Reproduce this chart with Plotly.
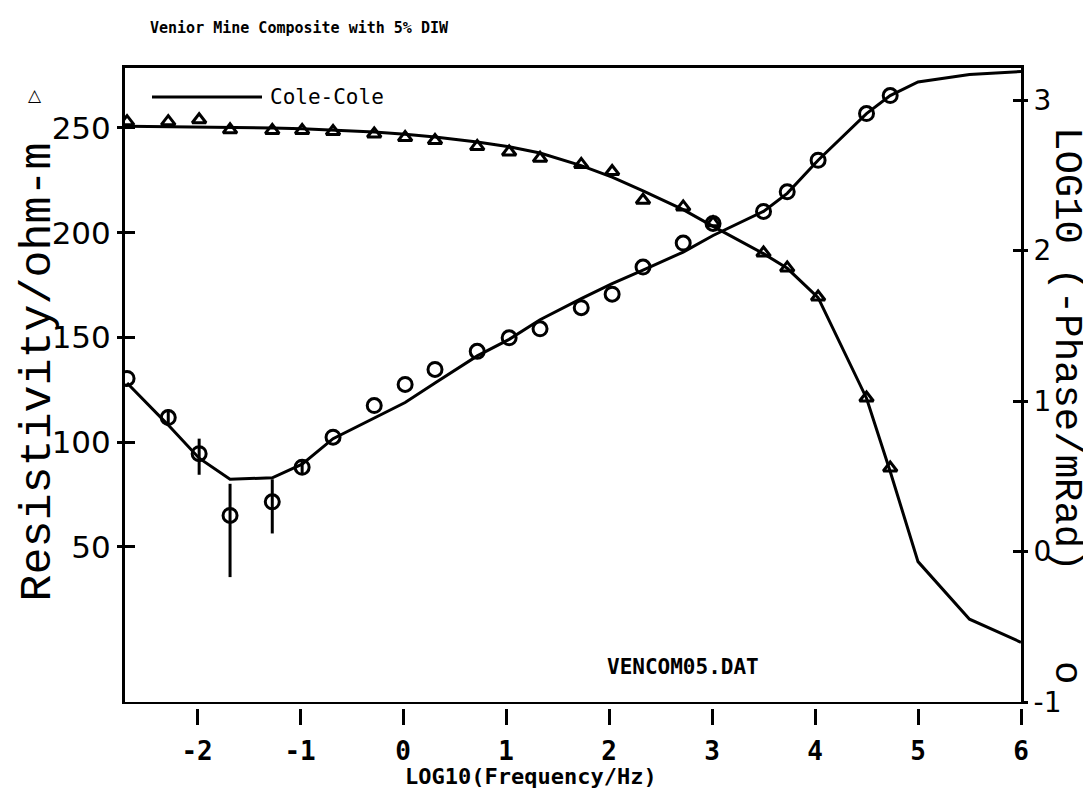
import plotly.graph_objects as go

# ---------------- data ----------------
log_freq = [-2.68, -2.28, -1.98, -1.68, -1.27, -0.98, -0.68, -0.28, 0.02, 0.31,
            0.72, 1.03, 1.33, 1.73, 2.03, 2.33, 2.72, 3.01, 3.50, 3.73,
            4.03, 4.50, 4.73]
resistivity = [253.0, 253.0, 253.9, 249.1, 248.8, 248.8, 248.3, 247.1, 245.4, 244.0,
               241.1, 238.5, 235.5, 232.6, 229.2, 215.5, 212.3, 204.7, 190.3, 183.2,
               169.3, 121.1, 87.7]
log_phase = [1.15, 0.89, 0.65, 0.24, 0.33, 0.56, 0.76, 0.97, 1.11, 1.21,
             1.33, 1.42, 1.48, 1.62, 1.71, 1.89, 2.05, 2.18, 2.26, 2.39,
             2.60, 2.91, 3.03]
phase_err_plus = [0, 0.055, 0.10, 0.21, 0.15, 0.04, 0, 0, 0, 0,
                  0, 0, 0, 0, 0, 0, 0, 0, 0, 0, 0, 0, 0]
phase_err_minus = [0, 0.055, 0.14, 0.41, 0.21, 0.04, 0, 0, 0, 0,
                   0, 0, 0, 0, 0, 0, 0, 0, 0, 0, 0, 0, 0]

model_log_freq = [-2.68, -2.28, -1.98, -1.68, -1.27, -0.98, -0.68, -0.28, 0.02, 0.31,
                  0.72, 1.03, 1.33, 1.73, 2.03, 2.33, 2.72, 3.01, 3.50, 3.73,
                  4.03, 4.50, 4.73, 5.0, 5.5, 6.0]
model_resistivity = [250.8, 250.6, 250.4, 250.2, 250.0, 249.6, 249.0, 248.0, 247.0, 245.7,
                     243.3, 241.0, 238.0, 232.0, 226.5, 220.0, 211.0, 203.0, 190.0, 183.0,
                     169.0, 121.0, 86.0, 43.0, 15.5, 4.5]
model_log_phase = [1.12, 0.84, 0.62, 0.48, 0.49, 0.58, 0.75, 0.89, 0.99, 1.12,
                   1.30, 1.41, 1.54, 1.68, 1.78, 1.87, 1.99, 2.10, 2.26, 2.38,
                   2.60, 2.91, 3.03, 3.12, 3.17, 3.19]

x_tickvals = [-2, -1, 0, 1, 2, 3, 4, 5, 6]
x_ticktext = ["-2", "-1", "0", "1", "2", "3", "4", "5", "6"]
rho_tickvals = [50, 100, 150, 200, 250]
phase_tickvals = [-1, 0, 1, 2, 3]
phase_ticktext = ["-1", "0", "1", "2", "3"]
phase_inner_ticks = [0, 1, 2, 3]

x_range = [-2.7, 6.0]
rho_range = [-24, 278.6]
phase_range = [-1, 3.213]

title_text = "Venior Mine Composite with 5% DIW"
legend_text = "Cole-Cole"
file_text = "VENCOM05.DAT"
x_title = "LOG10(Frequency/Hz)"
left_title = "Resistivity/ohm-m"
right_title = "LOG10 (-Phase/mRad)"
right_symbol = "o"

# ---------------- layout geometry ----------------
OFF = 8                      # page body margin of the html page
W, H = 1091 - OFF, 800 - OFF
# frame in screen pixels: left 125, right 1021, top 68, bottom 702
ML = 125 - OFF
MR = W - (1021 - OFF)
MT = 68 - OFF
MB = 800 - 702               # frame bottom = bottom of plotting area
PW, PH = W - ML - MR, H - MT - MB


def px(xs):
    """screen x (reference picture) -> paper x"""
    return (xs - OFF - ML) / PW


def py(ys):
    """screen y (reference picture) -> paper y"""
    return (H - MB - (ys - OFF)) / PH


MONO = "DejaVu Sans Mono"
TMONO = "Liberation Mono"
SANS = "DejaVu Sans"
BLACK = "black"

fig = go.Figure()

fig.add_trace(go.Scatter(x=model_log_freq, y=model_resistivity, mode="lines",
                         line=dict(color=BLACK, width=3), yaxis="y",
                         name="Cole-Cole", hoverinfo="skip"))
fig.add_trace(go.Scatter(x=model_log_freq, y=model_log_phase, mode="lines",
                         line=dict(color=BLACK, width=3), yaxis="y2",
                         name="Cole-Cole phase", hoverinfo="skip"))
fig.add_trace(go.Scatter(x=log_freq, y=resistivity, mode="markers", yaxis="y",
                         marker=dict(symbol="triangle-up-open", size=12,
                                     color=BLACK, line=dict(width=3, color=BLACK)),
                         name="Resistivity"))
fig.add_trace(go.Scatter(x=log_freq, y=log_phase, mode="markers", yaxis="y2",
                         marker=dict(symbol="circle-open", size=14,
                                     color=BLACK, line=dict(width=3, color=BLACK)),
                         error_y=dict(type="data", symmetric=False,
                                      array=phase_err_plus,
                                      arrayminus=phase_err_minus,
                                      thickness=3, width=0, color=BLACK),
                         name="Phase"))
# invisible copies so that the inner-tick overlay axes are drawn
fig.add_trace(go.Scatter(x=model_log_freq, y=model_resistivity, mode="lines",
                         yaxis="y3", opacity=0, line=dict(width=0),
                         hoverinfo="skip", showlegend=False))
fig.add_trace(go.Scatter(x=model_log_freq, y=model_log_phase, mode="lines",
                         yaxis="y4", opacity=0, line=dict(width=0),
                         hoverinfo="skip", showlegend=False))

fig.update_layout(
    width=W, height=H,
    margin=dict(l=ML, r=MR, t=MT, b=MB, autoexpand=False),
    paper_bgcolor="white", plot_bgcolor="white",
    showlegend=False,
    xaxis=dict(range=x_range, showline=True, mirror=True,
               linecolor=BLACK, linewidth=3, tickmode="array",
               tickvals=x_tickvals, ticktext=x_ticktext,
               ticks="outside", ticklen=20, tickwidth=3, tickcolor=BLACK,
               ticklabelstandoff=4,
               tickfont=dict(family=MONO, size=26, color=BLACK, weight="bold"),
               showgrid=False, zeroline=False),
    yaxis=dict(range=rho_range, tickmode="array",
               tickvals=rho_tickvals, ticks="outside", ticklen=5, tickwidth=3,
               tickcolor=BLACK, showline=True, linecolor=BLACK, linewidth=3,
               showgrid=False, zeroline=False,
               tickfont=dict(family=SANS, size=31, color=BLACK)),
    yaxis3=dict(overlaying="y", anchor="x", side="left", range=rho_range,
                tickmode="array", tickvals=rho_tickvals, ticks="inside",
                ticklen=10, tickwidth=3, tickcolor=BLACK, showticklabels=False,
                showline=False, showgrid=False, zeroline=False),
    yaxis2=dict(overlaying="y", anchor="x", side="right", range=phase_range,
                tickmode="array", tickvals=phase_tickvals, ticktext=phase_ticktext,
                ticks="outside", ticklen=4, tickwidth=3, tickcolor=BLACK,
                showline=True, linecolor=BLACK, linewidth=3,
                showgrid=False, zeroline=False,
                tickfont=dict(family=SANS, size=28, color=BLACK)),
    yaxis4=dict(overlaying="y", anchor="x", side="right", range=phase_range,
                tickmode="array", tickvals=phase_inner_ticks, ticks="inside",
                ticklen=8, tickwidth=3, tickcolor=BLACK, showticklabels=False,
                showline=False, showgrid=False, zeroline=False),
)

# legend sample drawn by hand (long line like the original plotter legend)
fig.add_shape(type="line", xref="paper", yref="paper",
              x0=px(152), x1=px(262), y0=py(97), y1=py(97),
              line=dict(color=BLACK, width=3))
# small white gap between the frame and the detached x tick marks
fig.add_shape(type="rect", xref="paper", yref="paper", layer="above",
              x0=px(120), x1=px(1026), y0=py(704), y1=py(709),
              fillcolor="white", line=dict(width=0))

annotations = [
    dict(text=legend_text, x=px(268), y=py(97), xanchor="left", yanchor="middle",
         font=dict(family=MONO, size=21, color=BLACK)),
    dict(text="<b>" + title_text + "</b>", x=px(148), y=py(28), xanchor="left",
         yanchor="middle", font=dict(family=MONO, size=15, color=BLACK)),
    dict(text="<b>" + file_text + "</b>", x=px(683), y=py(667), xanchor="center",
         yanchor="middle", font=dict(family=MONO, size=21, color=BLACK)),
    dict(text="<b>" + x_title + "</b>", x=px(531), y=py(776), xanchor="center",
         yanchor="middle", font=dict(family=MONO, size=22, color=BLACK)),
    dict(text=left_title, x=px(10), y=py(372), textangle=-90, xanchor="left",
         yanchor="middle", font=dict(family=TMONO, size=45, color=BLACK)),
    dict(text="<b>\u25B3</b>", x=px(35), y=py(95), xanchor="center",
         yanchor="middle", font=dict(family=SANS, size=17, color=BLACK)),
    dict(text=right_title, x=px(1090), y=py(349), textangle=90, xanchor="right",
         yanchor="middle", font=dict(family=TMONO, size=39, color=BLACK)),
    dict(text=right_symbol, x=px(1090), y=py(672), textangle=90, xanchor="right",
         yanchor="middle", font=dict(family=TMONO, size=39, color=BLACK)),
]
for a in annotations:
    a.update(xref="paper", yref="paper", showarrow=False)
fig.update_layout(annotations=annotations)

fig.write_html("out.html")
